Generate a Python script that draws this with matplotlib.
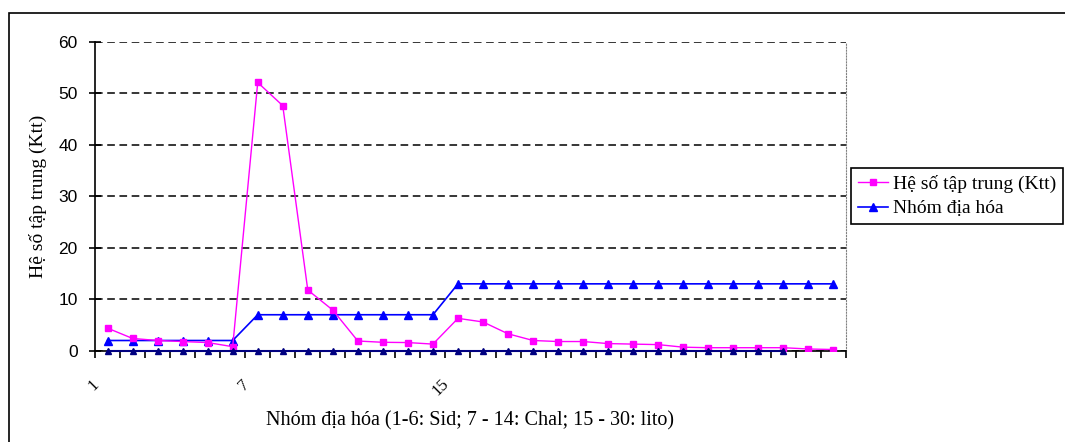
import numpy as np
import matplotlib.pyplot as plt
import matplotlib.transforms as mtransforms
from matplotlib.patches import Rectangle

# 30 mau, 3 nhom dia hoa
nhom = np.arange(1, 31)
ktt = [4.4, 2.4, 2.0, 1.8, 1.6, 0.8, 52.1, 47.6, 11.8, 7.9,
       1.9, 1.65, 1.6, 1.3, 6.3, 5.6, 3.3, 2.0, 1.8, 1.8,
       1.4, 1.3, 1.2, 0.7, 0.6, 0.6, 0.6, 0.6, 0.35, 0.25]
nhom_dia_hoa = [2]*6 + [7]*8 + [13]*16
chuoi_0 = [0]*28
nhan_x = {1: '1', 7: '7', 15: '15'}

plt.rcParams['font.family'] = 'Liberation Serif'

fig = plt.figure(figsize=(10.65, 4.42), dpi=100)
fig.patches.append(Rectangle((9/1065, -0.1), 1.2, 1 - 13/442 + 0.1, transform=fig.transFigure,
                             fill=False, edgecolor='black', linewidth=1.2))

ax = fig.add_axes([95/1065, (442-350.8)/442, (846-95)/1065, 309/442])

l1, = ax.plot(nhom, ktt, color='#FF00FF', marker='s', markersize=4.5, linewidth=1, zorder=4)
l2, = ax.plot(nhom, nhom_dia_hoa, color='#0000FF', marker='^', markersize=5.5, linewidth=1.2, zorder=3)
ax.plot(nhom[:28], chuoi_0, color='#000080', marker='^', markersize=4, linewidth=1.5, zorder=5, clip_on=False)

ax.set_xlim(0.5, 30.5)
ax.set_ylim(0, 60)
ax.set_yticks(range(0, 61, 10))
ax.yaxis.grid(True, linestyle=(0, (5, 3)), color='black', linewidth=1.1)
ax.tick_params(axis='y', direction='inout', length=9, width=1.2, labelsize=12.5, pad=8)
for t in ax.get_yticklabels():
    t.set_family('Liberation Sans')

# vach chia o ranh gioi tung nhom, nhan xoay 45 do
ax.set_xticks(np.arange(0.5, 31, 1))
ax.set_xticklabels([])
ax.tick_params(axis='x', direction='out', length=5, width=1.2)
lech = mtransforms.ScaledTranslation(-11/100, -31/100, fig.dpi_scale_trans)
for x, s in nhan_x.items():
    ax.text(x, 0, s, transform=ax.get_xaxis_transform() + lech, rotation=45,
            ha='right', va='center', rotation_mode='anchor', fontsize=12)

ax.spines['top'].set_visible(False)
ax.spines['right'].set_linestyle(':')
ax.spines['right'].set_color('gray')
ax.spines['left'].set_linewidth(1.2)
ax.spines['bottom'].set_linewidth(1.2)

ax.set_xlabel('Nhóm địa hóa (1-6: Sid; 7 - 14: Chal; 15 - 30: lito)', fontsize=14.5, labelpad=35)
ax.set_ylabel('Hệ số tập trung (Ktt)', fontsize=14, labelpad=8)

leg = fig.legend([l1, l2], ['Hệ số tập trung (Ktt)', 'Nhóm địa hóa'], loc='upper left',
                 bbox_to_anchor=(851/1065, 1 - 168/442), fontsize=14, fancybox=False,
                 framealpha=1, edgecolor='black', handlelength=1.55, handletextpad=0.25,
                 borderpad=0.35, labelspacing=0.36, borderaxespad=0)
leg.get_frame().set_linewidth(1.2)

plt.savefig('out.png', dpi=100)
